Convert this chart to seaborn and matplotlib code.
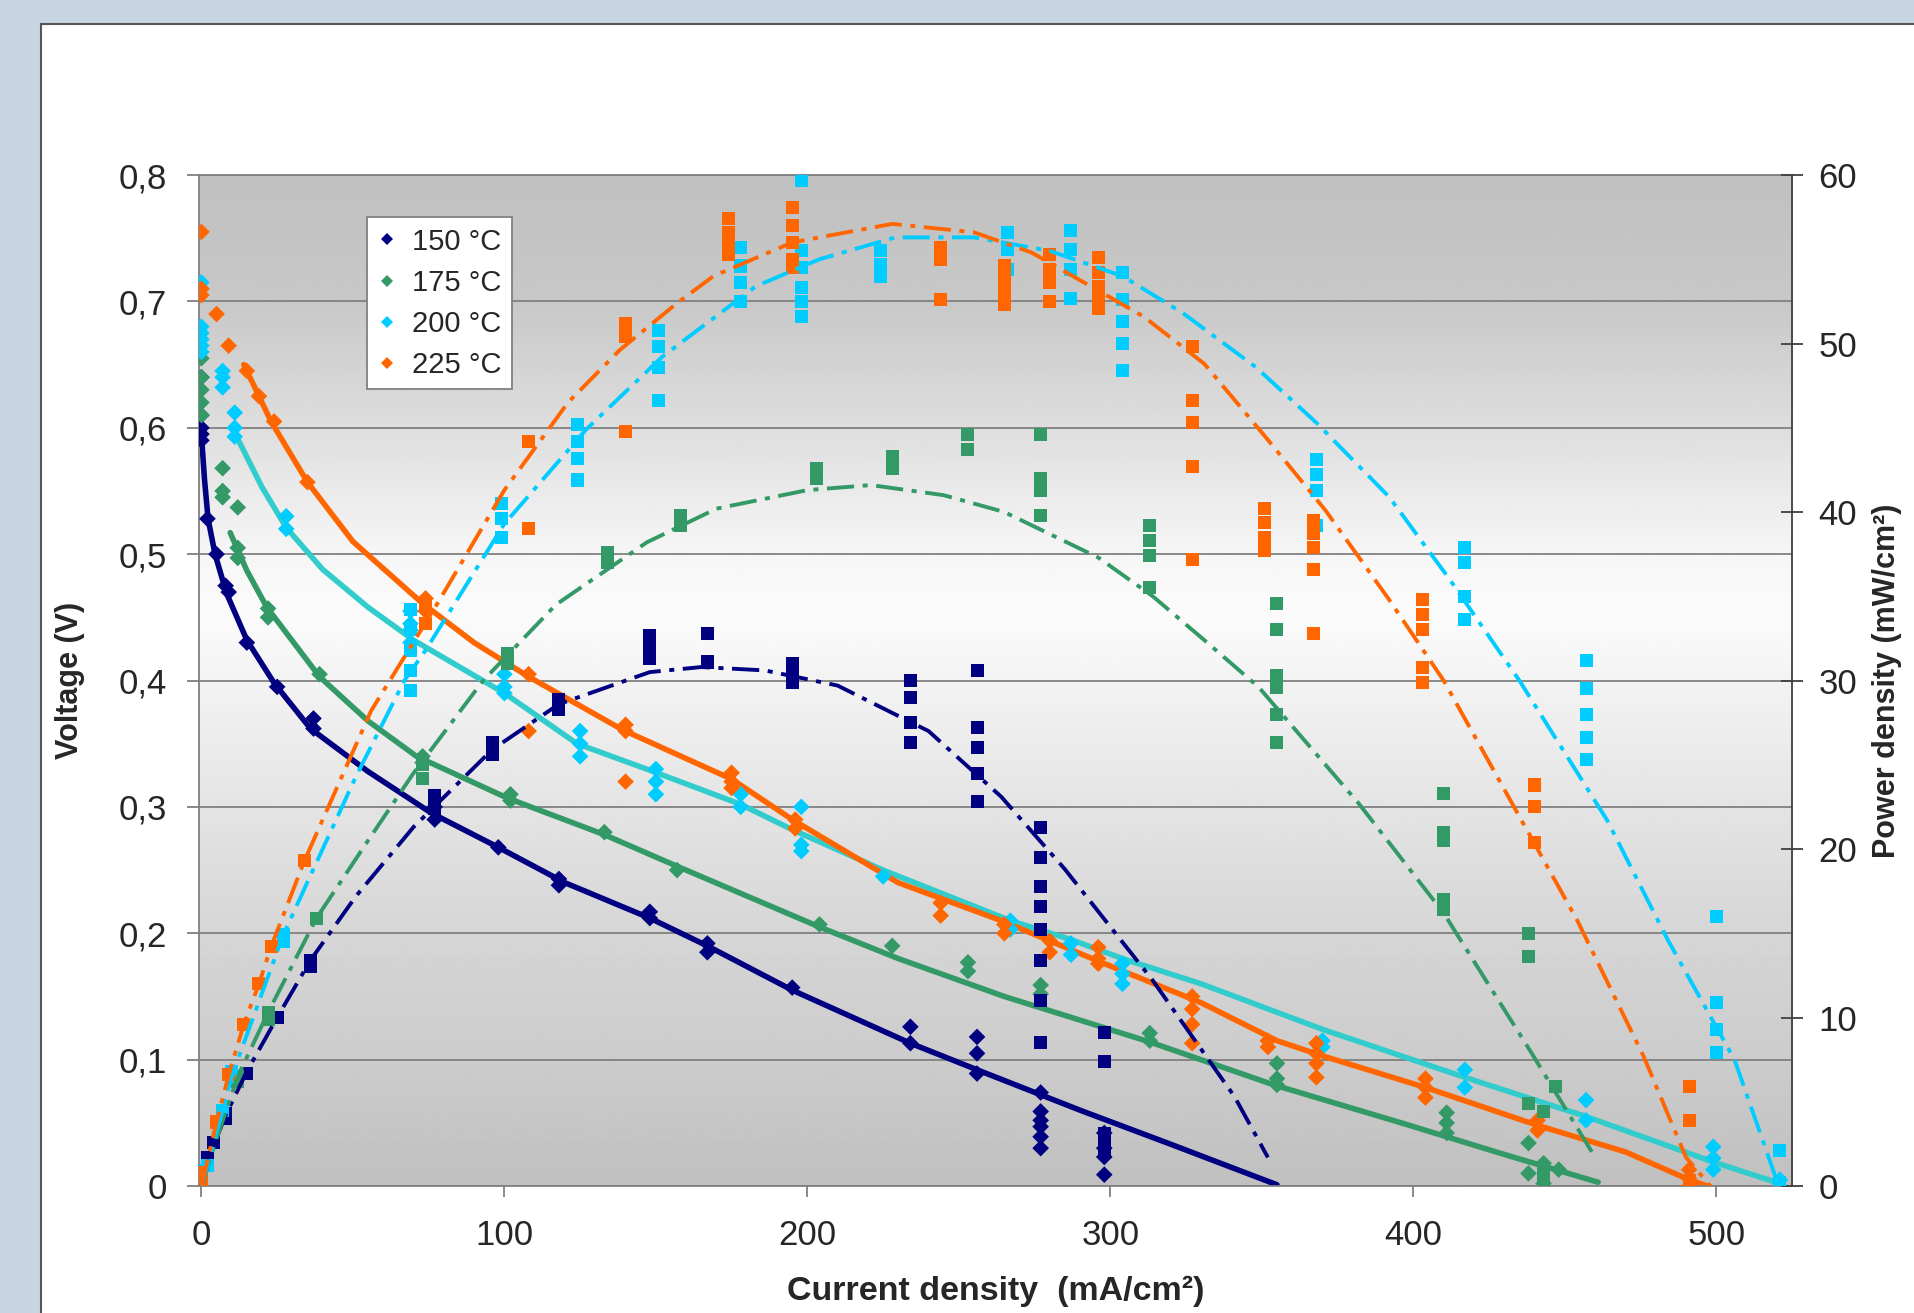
import numpy as np
import pandas as pd
import matplotlib
matplotlib.use("Agg")
import matplotlib.pyplot as plt
from matplotlib.patches import Rectangle
import seaborn as sns

temps = ["150 °C", "175 °C", "200 °C", "225 °C"]
marker_colors = ["#000080", "#339966", "#00CCFF", "#FF6600"]
volt_line_colors = ["#000080", "#339966", "#33CCCC", "#FF6600"]
power_line_colors = ["#000080", "#339966", "#00CCFF", "#FF6600"]

x_ticks = [0, 100, 200, 300, 400, 500]
x_labels = ["0", "100", "200", "300", "400", "500"]
volt_ticks = [0, 0.1, 0.2, 0.3, 0.4, 0.5, 0.6, 0.7, 0.8]
volt_labels = ["0", "0,1", "0,2", "0,3", "0,4", "0,5", "0,6", "0,7", "0,8"]
power_ticks = [0, 10, 20, 30, 40, 50, 60]
power_labels = ["0", "10", "20", "30", "40", "50", "60"]

# measured voltage (diamonds), current in mA/cm2
i_v150 = [0, 0, 0, 0, 0, 2, 5, 8, 9, 15, 25, 37, 37, 77, 77, 98, 118, 118, 148, 148,
          167, 167, 195, 234, 234, 256, 256, 256, 277, 277, 277, 277, 277, 277,
          298, 298, 298, 298]
v150 = [0.64, 0.61, 0.60, 0.595, 0.59, 0.528, 0.50, 0.475, 0.47, 0.43, 0.395, 0.37, 0.362,
        0.30, 0.29, 0.268, 0.243, 0.238, 0.217, 0.212, 0.192, 0.185, 0.157, 0.126, 0.113,
        0.118, 0.105, 0.089, 0.074, 0.059, 0.052, 0.047, 0.039, 0.030,
        0.042, 0.03, 0.023, 0.009]

i_v175 = [0, 0, 0, 0, 0, 7, 7, 7, 12, 12, 12, 22, 22, 39, 73, 73, 102, 102, 133, 157,
          204, 228, 253, 253, 277, 277, 313, 313, 355, 355, 355, 411, 411, 411,
          438, 438, 443, 443, 448]
v175 = [0.655, 0.64, 0.63, 0.62, 0.61, 0.568, 0.55, 0.545, 0.537, 0.505, 0.497, 0.457, 0.45,
        0.405, 0.34, 0.335, 0.31, 0.305, 0.28, 0.25, 0.207, 0.19, 0.177, 0.17, 0.159, 0.152,
        0.121, 0.115, 0.097, 0.085, 0.08, 0.058, 0.05, 0.042, 0.034, 0.01, 0.018, 0.002, 0.013]

i_v200 = [0, 0, 0, 0, 0, 0, 0, 7, 7, 7, 11, 11, 11, 28, 28, 69, 69, 69, 69, 100, 100, 100,
          125, 125, 125, 150, 150, 150, 178, 178, 198, 198, 198, 225, 267, 267, 287, 287,
          304, 304, 304, 370, 370, 417, 417, 457, 457, 499, 499, 499, 521]
v200 = [0.715, 0.71, 0.68, 0.675, 0.67, 0.665, 0.66, 0.645, 0.64, 0.632, 0.612, 0.60, 0.593,
        0.53, 0.52, 0.455, 0.445, 0.44, 0.43, 0.405, 0.395, 0.39, 0.36, 0.35, 0.34, 0.33,
        0.32, 0.31, 0.31, 0.30, 0.30, 0.27, 0.265, 0.245, 0.21, 0.203, 0.192, 0.183,
        0.176, 0.168, 0.16, 0.115, 0.11, 0.092, 0.078, 0.068, 0.052, 0.031, 0.022, 0.013, 0.005]

i_v225 = [0, 0, 0, 5, 9, 15, 19, 24, 35, 74, 74, 108, 108, 140, 140, 140, 175, 175, 175,
          196, 196, 244, 244, 265, 265, 280, 280, 296, 296, 296, 327, 327, 327, 327,
          352, 352, 368, 368, 368, 368, 404, 404, 404, 441, 441, 491, 491, 491]
v225 = [0.755, 0.71, 0.705, 0.69, 0.665, 0.645, 0.625, 0.605, 0.557, 0.465, 0.455, 0.405,
        0.36, 0.365, 0.36, 0.32, 0.327, 0.32, 0.315, 0.29, 0.283, 0.224, 0.214, 0.207, 0.20,
        0.194, 0.185, 0.189, 0.18, 0.176, 0.15, 0.14, 0.128, 0.113, 0.115, 0.11,
        0.113, 0.105, 0.097, 0.086, 0.085, 0.078, 0.07, 0.052, 0.044, 0.013, 0.006, 0.0]

# measured power density (squares), mW/cm2
i_p150 = [0, 0, 2, 4, 8, 8, 15, 25, 36, 36, 77, 77, 96, 96, 118, 118, 148, 148, 148,
          167, 167, 195, 195, 195, 234, 234, 234, 234, 256, 256, 256, 256, 256,
          277, 277, 277, 277, 277, 277, 277, 277, 298, 298, 298, 298, 298]
p150 = [0, 0.4, 1.7, 2.6, 4.3, 4.0, 6.7, 10.0, 13.4, 13.0, 23.2, 22.4, 26.3, 25.6, 28.9, 28.3,
        32.7, 31.9, 31.3, 32.8, 31.1, 31.0, 30.6, 29.9, 30.0, 29.0, 27.5, 26.3,
        30.6, 27.2, 26.0, 24.5, 22.8, 21.3, 19.5, 17.8, 16.6, 15.2, 13.4, 11.0, 8.5,
        9.1, 7.4, 3.1, 2.5, 2.0]

i_p175 = [0, 12, 12, 22, 22, 38, 73, 73, 101, 101, 134, 134, 158, 158, 203, 203, 228, 228,
          253, 253, 277, 277, 277, 277, 313, 313, 313, 313, 355, 355, 355, 355, 355, 355,
          410, 410, 410, 410, 410, 438, 438, 438, 443, 443, 443, 447]
p175 = [0.3, 6.5, 6.2, 10.3, 9.9, 15.9, 25.0, 24.2, 31.6, 31.0, 37.6, 37.0, 39.8, 39.2,
        42.6, 42.0, 43.3, 42.6, 44.6, 43.7, 44.6, 42.0, 41.3, 39.8, 39.2, 38.3, 37.4, 35.5,
        34.6, 33.0, 30.3, 29.6, 28.0, 26.3, 23.3, 21.0, 20.5, 17.0, 16.4,
        15.0, 13.6, 4.9, 4.4, 0.9, 0.5, 5.9]

i_p200 = [0, 0, 2, 7, 10, 10, 27, 27, 69, 69, 69, 69, 69, 99, 99, 99, 124, 124, 124, 124,
          151, 151, 151, 151, 178, 178, 178, 178, 198, 198, 198, 198, 198, 198, 224, 224, 224,
          266, 266, 266, 287, 287, 287, 287, 304, 304, 304, 304, 304, 368, 368, 368, 368,
          417, 417, 417, 417, 457, 457, 457, 457, 457, 500, 500, 500, 500, 521, 521]
p200 = [0.4, 0.9, 1.2, 4.5, 6.5, 6.8, 14.9, 14.5, 34.2, 33.0, 31.8, 30.6, 29.4, 40.5, 39.6,
        38.5, 45.2, 44.2, 43.2, 41.9, 50.8, 49.8, 48.6, 46.6, 55.7, 54.6, 53.6, 52.5,
        59.7, 55.5, 54.5, 53.3, 52.5, 51.6, 55.5, 54.7, 54.0, 56.6, 55.6, 54.4,
        56.7, 55.6, 54.4, 52.7, 54.2, 52.6, 51.3, 50.0, 48.4, 43.1, 42.2, 41.3, 39.2,
        37.9, 37.0, 35.0, 33.6, 31.2, 29.5, 28.0, 26.6, 25.3, 16.0, 10.9, 9.3, 7.9, 2.1, 0.2]

i_p225 = [0, 0, 5, 9, 14, 19, 23, 34, 74, 74, 108, 108, 140, 140, 140, 174, 174, 174, 174,
          195, 195, 195, 195, 195, 244, 244, 244, 265, 265, 265, 265, 280, 280, 280, 280,
          296, 296, 296, 296, 296, 327, 327, 327, 327, 327, 351, 351, 351, 351,
          367, 367, 367, 367, 367, 403, 403, 403, 403, 403, 440, 440, 440, 491, 491, 491]
p225 = [0.4, 0.8, 3.8, 6.6, 9.6, 12.0, 14.2, 19.3, 34.4, 33.4, 44.2, 39.0, 51.2, 50.4, 44.8,
        57.4, 56.6, 56.0, 55.3, 58.1, 57.0, 56.0, 55.0, 54.5, 55.7, 55.0, 52.6,
        54.6, 53.8, 53.0, 52.3, 55.3, 54.4, 53.6, 52.5, 55.1, 54.2, 53.4, 52.8, 52.1,
        49.8, 46.6, 45.3, 42.7, 37.2, 40.2, 39.4, 38.5, 37.7, 39.5, 38.7, 37.9, 36.6, 32.8,
        34.8, 33.9, 33.0, 30.8, 29.9, 23.8, 22.5, 20.4, 5.9, 3.9, 0.3]

# fitted voltage curves (solid)
fit_v150_x = [0, 1, 2.2, 4.5, 8.3, 15, 24, 36, 55, 76, 98, 120, 148, 167, 195, 234, 256,
              290, 320, 355]
fit_v150 = [0.595, 0.56, 0.528, 0.50, 0.469, 0.432, 0.398, 0.362, 0.328, 0.295, 0.268, 0.24,
            0.212, 0.19, 0.155, 0.113, 0.092, 0.06, 0.033, 0.001]
fit_v175_x = [9.5, 15, 21.6, 39, 55, 71, 101, 133, 158, 204, 230, 265, 313, 354, 396, 430, 461]
fit_v175 = [0.517, 0.487, 0.458, 0.403, 0.368, 0.34, 0.307, 0.278, 0.252, 0.205, 0.18, 0.15,
            0.114, 0.08, 0.05, 0.025, 0.003]
fit_v200_x = [11, 20, 28, 40, 55, 70, 100, 124, 148, 178, 195, 225, 267, 287, 304, 330, 370,
              417, 457, 499, 521]
fit_v200 = [0.596, 0.553, 0.521, 0.488, 0.458, 0.432, 0.39, 0.35, 0.329, 0.302, 0.282, 0.25,
            0.21, 0.195, 0.18, 0.16, 0.124, 0.086, 0.055, 0.019, 0.002]
fit_v225_x = [14, 23, 35, 50, 73, 90, 108, 139, 175, 195, 230, 264, 297, 330, 355, 370, 404,
              441, 470, 491, 503]
fit_v225 = [0.65, 0.605, 0.557, 0.51, 0.461, 0.43, 0.403, 0.361, 0.322, 0.29, 0.24, 0.21,
            0.177, 0.145, 0.115, 0.103, 0.078, 0.048, 0.027, 0.005, -0.005]

# fitted power curves (dash-dot)
fit_p150_x = [0, 2, 4, 8, 15, 25, 36, 51, 70, 96, 118, 148, 165, 186, 210, 240, 264, 285,
              314, 341, 352]
fit_p150 = [0, 1.2, 2.4, 4.2, 6.8, 10.0, 13.4, 17.2, 21.3, 25.9, 28.6, 30.5, 30.8, 30.6,
            29.7, 27.0, 23.1, 18.8, 12.2, 5.3, 1.7]
fit_p175_x = [0, 5, 12, 22, 38, 55, 70, 93, 117, 147, 170, 200, 221, 245, 265, 296, 314, 331,
              349, 382, 410, 439, 459]
fit_p175 = [0, 2.8, 6.5, 10.3, 15.9, 20.5, 24.5, 30.0, 34.5, 38.2, 40.2, 41.3, 41.6, 41.0,
            40.0, 37.3, 35.0, 32.4, 29.6, 22.7, 16.2, 7.9, 2.0]
fit_p200_x = [0, 2, 10, 27, 51, 67, 74, 100, 127, 152, 183, 204, 229, 255, 280, 304, 324, 348,
              368, 392, 412, 435, 464, 484, 506, 520]
fit_p200 = [0, 1.2, 6.5, 14.9, 24.3, 30.0, 31.8, 39.3, 44.9, 49.2, 53.4, 55.0, 56.3, 56.3,
            55.5, 54.0, 51.8, 48.6, 45.3, 40.9, 36.0, 30.0, 21.7, 14.6, 7.5, 0.3]
fit_p225_x = [0, 5, 9, 14, 19, 23, 34, 56, 78, 100, 121, 138, 157, 169, 195, 228, 255, 274,
              311, 331, 351, 371, 392, 410, 432, 454, 476, 490, 498]
fit_p225 = [0, 3.8, 6.6, 9.6, 12.0, 14.2, 19.3, 28.2, 34.6, 41.3, 46.5, 49.6, 52.4, 54.0,
            56.0, 57.1, 56.6, 55.4, 51.6, 48.8, 44.5, 40.1, 34.8, 30.0, 22.9, 15.8, 7.7, 1.7, 0]

volt_df = pd.concat([pd.DataFrame({"current": i, "voltage": v, "temp": t})
                     for i, v, t in zip([i_v150, i_v175, i_v200, i_v225],
                                        [v150, v175, v200, v225], temps)])
power_df = pd.concat([pd.DataFrame({"current": i, "power": p, "temp": t})
                      for i, p, t in zip([i_p150, i_p175, i_p200, i_p225],
                                         [p150, p175, p200, p225], temps)])
volt_fits = [(fit_v150_x, fit_v150), (fit_v175_x, fit_v175),
             (fit_v200_x, fit_v200), (fit_v225_x, fit_v225)]
power_fits = [(fit_p150_x, fit_p150), (fit_p175_x, fit_p175),
              (fit_p200_x, fit_p200), (fit_p225_x, fit_p225)]

sns.set_style("white")
plt.rcParams["font.family"] = ["Liberation Sans", "DejaVu Sans"]

fig = plt.figure(figsize=(19.15, 13.13), dpi=100, facecolor="#c8d6e4")
fig.add_artist(Rectangle((41 / 1915, -0.05), 1.0, 1.05 - 24 / 1313, transform=fig.transFigure,
                         facecolor="white", edgecolor="#555555", lw=1.5, zorder=0))
ax = fig.add_axes([0.1039, 0.0967, 0.8319, 0.7700])
ax.patch.set_visible(False)

# grey - white - grey background of the plot area
stops_f = [0, 0.125, 0.25, 0.375, 0.5, 0.5625, 0.625, 0.75, 0.875, 1]
stops_g = [192, 204, 214, 228, 243, 251, 246, 222, 200, 192]
f = np.linspace(0, 1, 400)
g = np.interp(f, stops_f, stops_g) / 255
ax.imshow(np.repeat(g[::-1, None], 2, axis=1), cmap="gray", vmin=0, vmax=1,
          extent=[0, 1, 0, 1], transform=ax.transAxes, aspect="auto", zorder=0,
          interpolation="bilinear")

sns.scatterplot(data=volt_df, x="current", y="voltage", hue="temp", hue_order=temps,
                palette=marker_colors, marker="D", s=72, linewidth=0, ax=ax, zorder=3)
for (fx, fy), c in zip(volt_fits, volt_line_colors):
    sns.lineplot(x=fx, y=fy, color=c, lw=4, sort=False, estimator=None, ax=ax, zorder=2)

ax2 = ax.twinx()
sns.scatterplot(data=power_df, x="current", y="power", hue="temp", hue_order=temps,
                palette=marker_colors, marker="s", s=88, linewidth=0, legend=False, ax=ax2)
for (fx, fy), c in zip(power_fits, power_line_colors):
    sns.lineplot(x=fx, y=fy, color=c, lw=2.8, sort=False, estimator=None, ax=ax2,
                 linestyle=(0, (7, 2.2, 1.3, 2.2)))

ax.set_xlim(-0.8, 525)
ax.set_ylim(0, 0.8)
ax2.set_ylim(0, 60)
ax.set_xticks(x_ticks, x_labels)
ax.set_yticks(volt_ticks, volt_labels)
ax2.set_yticks(power_ticks, power_labels)

ax.grid(axis="y", color="#808080", lw=1.3)
ax.grid(axis="x", visible=False)
ax.set_axisbelow(True)
for s in ["left", "bottom", "top"]:
    ax.spines[s].set_color("#808080")
    ax.spines[s].set_linewidth(1.3)
ax.spines["right"].set_visible(False)
for s in ["left", "bottom", "top"]:
    ax2.spines[s].set_visible(False)
ax2.spines["right"].set_color("#404040")
ax2.spines["right"].set_linewidth(1.3)

ax.tick_params(axis="y", direction="out", length=9, width=1.3, color="#808080", pad=14,
               labelsize=25, left=True)
ax.tick_params(axis="x", direction="out", length=8, width=1.3, color="#808080", pad=16,
               labelsize=25, bottom=True)
ax2.tick_params(axis="y", direction="inout", length=16, width=1.3, color="#404040", pad=11,
                labelsize=25, right=True)

ax.set_xlabel("Current density  (mA/cm²)", fontsize=24.5, fontweight="bold")
ax.set_ylabel("Voltage (V)", fontsize=22, fontweight="bold")
ax2.set_ylabel("Power density (mW/cm²)", fontsize=22, fontweight="bold")
ax.xaxis.label.set_va("center")
ax.yaxis.label.set_va("center")
ax2.yaxis.label.set_va("center")
ax.xaxis.set_label_coords(0.5, -0.104)
ax.yaxis.set_label_coords(-0.081, 0.5)
ax2.yaxis.set_label_coords(1.0597, 0.5)

handles, labels = ax.get_legend_handles_labels()
ax.get_legend().remove()
leg = ax2.legend(handles, labels, loc="upper left", bbox_to_anchor=(0.1055, 0.958),
                 borderaxespad=0, frameon=True, fancybox=False, edgecolor="#808080",
                 framealpha=1, fontsize=21, borderpad=0.35, labelspacing=0.45,
                 handlelength=0.7, handletextpad=0.5, markerscale=0.7)
leg.get_frame().set_linewidth(1.3)

fig.savefig("out.png", dpi=100, facecolor=fig.get_facecolor())
